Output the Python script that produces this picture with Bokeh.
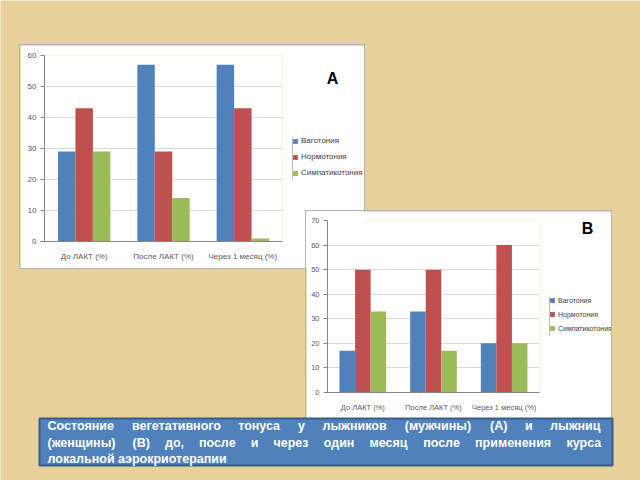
from bokeh.plotting import figure
from bokeh.models import (Range1d, FactorRange, Legend, LegendItem,
                          SingleIntervalTicker)
from bokeh.transform import dodge
from bokeh.embed import file_html
from bokeh.resources import INLINE
from bokeh.core.properties import value

# ---------------- data ----------------
categories = ["До ЛАКТ (%)", "После ЛАКТ (%)", "Через 1 месяц (%)"]
series_names = ["Ваготония", "Нормотония", "Симпатикотония"]

a_vagotonia = [29, 57, 57]
a_normotonia = [43, 29, 43]
a_sympathicotonia = [29, 14, 1]

b_vagotonia = [17, 33, 20]
b_normotonia = [50, 50, 60]
b_sympathicotonia = [33, 17, 20]

caption_lines = [
    "Состояние вегетативного тонуса у лыжников (мужчины) (А) и лыжниц",
    "(женщины) (В) до, после и через один месяц после применения курса",
    "локальной аэрокриотерапии",
]

# ---------------- styles ----------------
colors = ["#4F81BD", "#C0504D", "#9BBB59"]
BG = "#E7D09A"
FONT = "Liberation Sans"
TXT = "#595959"
AXIS = "#868686"


def absolute(left, top, extra=None):
    s = {"position": "absolute", "left": f"{left}px", "top": f"{top}px"}
    if extra:
        s.update(extra)
    return s


def make_chart(series, ymax, box, frame, fs):
    left, top, w, h = box                    # inner white box on the slide
    fx0, fy0, fw, fh = frame                 # frame on the slide
    p = figure(x_range=FactorRange(factors=categories), y_range=Range1d(0, ymax),
               width=w, height=h, output_backend="svg", toolbar_location=None,
               min_border_left=fx0 - left, min_border_top=fy0 - top,
               min_border_right=w - (fx0 - left) - fw,
               min_border_bottom=h - (fy0 - top) - fh,
               background_fill_color="white", border_fill_color="white",
               outline_line_color=None,
               styles=absolute(left, top, {"box-shadow": "0 0 0 1px #B4B4B4"}))
    data = {"cat": categories}
    offsets = [-0.22, 0.0, 0.22]
    for name, vals in zip(series_names, series):
        data[name] = vals
    for i, name in enumerate(series_names):
        p.vbar(x=dodge("cat", offsets[i], range=p.x_range), top=name, width=0.22,
               source=data, fill_color=colors[i], line_color=None)

    p.xgrid.grid_line_color = None
    p.ygrid.grid_line_color = "#D9D9D9"
    p.yaxis.ticker = SingleIntervalTicker(interval=10, num_minor_ticks=0)
    for ax in (p.xaxis[0], p.yaxis[0]):
        ax.axis_line_color = AXIS
        ax.major_tick_line_color = AXIS
        ax.minor_tick_line_color = None
        ax.major_label_text_font = FONT
        ax.major_label_text_font_size = fs
        ax.major_label_text_color = TXT
    p.yaxis.major_tick_in = 0
    p.yaxis.major_tick_out = 4
    p.yaxis.major_label_standoff = 4
    p.xaxis.major_tick_in = 0
    p.xaxis.major_tick_out = 0
    p.xaxis.major_label_standoff = 10
    return p


def make_legend(left, top, w, h, spacing, fs):
    f = figure(width=w, height=h, x_range=Range1d(0, 1), y_range=Range1d(0, 1),
               output_backend="svg", toolbar_location=None, min_border=0,
               x_axis_location=None, y_axis_location=None,
               background_fill_color="white", border_fill_color="white", outline_line_color=None,
               styles=absolute(left, top))
    f.grid.grid_line_color = None
    items = []
    for name, c in zip(series_names, colors):
        # legend proxy, kept outside the visible range
        r = f.vbar(x=[-5], top=[1], width=0.1, fill_color=c, line_color=None)
        items.append(LegendItem(label=name, renderers=[r]))
    lg = Legend(items=items, location="top_left", padding=0, margin=0, spacing=spacing,
                glyph_width=6, glyph_height=6, label_height=8, label_standoff=3,
                label_text_font=FONT, label_text_font_size=fs, label_text_color="#404040",
                border_line_color=None, background_fill_alpha=0)
    f.add_layout(lg)
    return f


def make_letter(letter, cx, cy):
    f = figure(width=20, height=22, x_range=Range1d(0, 1), y_range=Range1d(0, 1),
               output_backend="svg", toolbar_location=None, min_border=0,
               x_axis_location=None, y_axis_location=None,
               background_fill_color="white", border_fill_color="white", outline_line_color=None,
               styles=absolute(cx - 10, cy - 11))
    f.grid.grid_line_color = None
    f.text(x=[0.5], y=[0.5], text=[letter], text_align="center", text_baseline="middle",
           text_font=value(FONT), text_font_style="bold", text_font_size=value("16px"),
           text_color="black")
    return f


# background slide
bg = figure(width=640, height=480, x_range=Range1d(0, 640), y_range=Range1d(480, 0),
            output_backend="svg", toolbar_location=None, min_border=0,
            x_axis_location=None, y_axis_location=None,
            background_fill_color=BG, border_fill_color=BG, outline_line_color=None,
            styles=absolute(0, 0))
bg.grid.grid_line_color = None

chart_a = make_chart([a_vagotonia, a_normotonia, a_sympathicotonia], 60,
                     box=(20, 45, 344, 223), frame=(44, 55, 238, 186), fs="8px")
chart_b = make_chart([b_vagotonia, b_normotonia, b_sympathicotonia], 70,
                     box=(306, 211, 305, 214), frame=(327, 220, 212, 172), fs="7.5px")
legend_a = make_legend(292, 136, 72, 44, 7, "8px")
legend_b = make_legend(549, 296, 62, 40, 6, "7px")
letter_a = make_letter("A", 332, 78)
letter_b = make_letter("B", 587, 228)

# caption box (transparent canvas slightly larger than the blue box)
BX0, BY0, BX1, BY1 = 39, 418, 612, 465       # blue box edges on the slide
PAD = 6
CX, CY = BX0 - PAD, BY0 - PAD
CW, CH = (BX1 - BX0) + 2 * PAD, (BY1 - BY0) + 2 * PAD
cap = figure(width=CW, height=CH, x_range=Range1d(CX, CX + CW), y_range=Range1d(CY + CH, CY),
             output_backend="svg", toolbar_location=None, min_border=0,
             x_axis_location=None, y_axis_location=None,
             background_fill_alpha=0, border_fill_alpha=0, outline_line_color=None,
             styles=absolute(CX, CY))
cap.grid.grid_line_color = None
cap.quad(left=[BX0], right=[BX1], top=[BY0], bottom=[BY1],
         fill_color="#4F81BD", line_color="#385D8A", line_width=2)

# approximate advance widths of Liberation Sans Bold (per 1000 em) for justification
ADV = {"С": 722, "А": 722, "В": 722, "о": 611, "с": 556, "т": 492, "я": 595, "н": 611,
       "и": 611, "е": 556, "в": 584, "г": 410, "а": 556, "ы": 800, "у": 556, "л": 611,
       "ж": 840, "к": 520, "м": 740, "ч": 590, "ц": 640, "щ": 900, "д": 620, "п": 611,
       "р": 611, "з": 500, "(": 333, ")": 333, ",": 278}
FS = 12.5
line_y = [425, 442, 458]
text_left, text_right = 47, 601
tstyle = dict(text_font=value(FONT), text_font_style="bold", text_font_size=value(f"{FS}px"),
              text_color="white", text_baseline="middle", text_align="left")
wx, wy, wt = [], [], []
for li, line in enumerate(caption_lines):
    words = line.split(" ")
    if li < len(caption_lines) - 1:
        widths = [sum(ADV.get(ch, 600) for ch in wd) * FS / 1000 for wd in words]
        gap = (text_right - text_left - sum(widths)) / (len(words) - 1)
        x = text_left
        for wd, ww in zip(words, widths):
            wx.append(x); wy.append(line_y[li]); wt.append(wd)
            x += ww + gap
    else:
        wx.append(text_left); wy.append(line_y[li]); wt.append(line)
cap.text(x=wx, y=wy, text=wt, **tstyle)

roots = [bg, chart_a, legend_a, letter_a, chart_b, legend_b, letter_b, cap]
open("out.html", "w").write(file_html(roots, INLINE))
